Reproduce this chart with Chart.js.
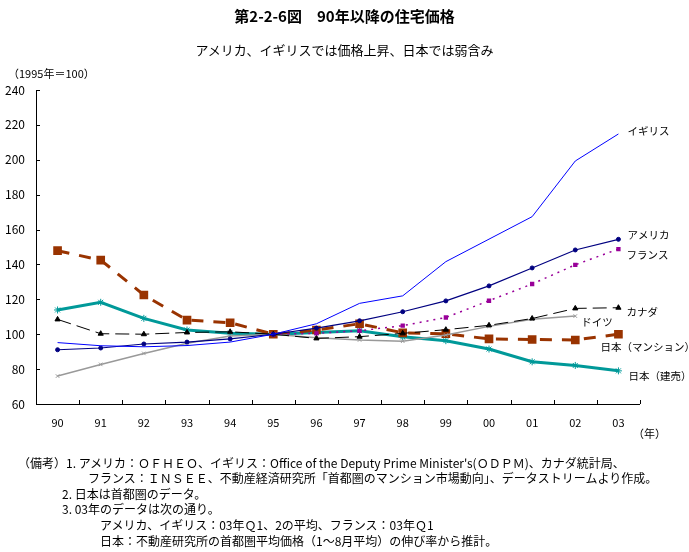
<!DOCTYPE html>
<html>
<head>
<meta charset="utf-8">
<script src="https://cdn.jsdelivr.net/npm/chart.js@4.4.1/dist/chart.umd.min.js"></script>
<style>
  html, body { margin:0; padding:0; background:#fff; }
  #wrap { position:relative; width:689px; height:552px; overflow:hidden; font-family:"Noto Sans CJK JP", sans-serif; color:#000; }
  canvas { position:absolute; left:0; top:0; }
  .t { position:absolute; white-space:nowrap; line-height:1; }
</style>
</head>
<body>
<div id="wrap">
  <canvas id="c" width="689" height="552"></canvas>
  <div class="t" style="left:0;width:689px;text-align:center;top:8px;font-size:15px;font-weight:bold;">第2-2-6図　90年以降の住宅価格</div>
  <div class="t" style="left:0;width:689px;text-align:center;top:43px;font-size:13px;">アメリカ、イギリスでは価格上昇、日本では弱含み</div>
  <div class="t" style="left:8px;top:68px;font-size:11px;">（1995年＝100）</div>
  <div class="t" style="left:633px;top:428px;font-size:11px;">（年）</div>
  <div class="t" style="left:18px;top:457px;font-size:12px;">（備考）1. アメリカ：ＯＦＨＥＯ、イギリス：Office of the Deputy Prime Minister's(ＯＤＰＭ)、カナダ統計局、</div>
  <div class="t" style="left:88px;top:472px;font-size:12px;">フランス：ＩＮＳＥＥ、不動産経済研究所「首都圏のマンション市場動向」、データストリームより作成。</div>
  <div class="t" style="left:62px;top:488px;font-size:12px;">2. 日本は首都圏のデータ。</div>
  <div class="t" style="left:62px;top:503px;font-size:12px;">3. 03年のデータは次の通り。</div>
  <div class="t" style="left:100px;top:519px;font-size:12px;">アメリカ、イギリス：03年Ｑ1、2の平均、フランス：03年Ｑ1</div>
  <div class="t" style="left:100px;top:535px;font-size:12px;">日本：不動産研究所の首都圏平均価格（1～8月平均）の伸び率から推計。</div>
</div>
<script>
const categories = ['90','91','92','93','94','95','96','97','98','99','00','01','02','03'];
const yTicks = [60, 80, 100, 120, 140, 160, 180, 200, 220, 240];
const uk        = [95.2, 93.4, 92.8, 93.5, 95.5, 100, 106, 117.7, 122, 141.6, 154.5, 167.4, 199.3, 214.8];
const usa       = [91.1, 92.1, 94.4, 95.5, 97.3, 100, 103.5, 107.7, 112.9, 119.1, 127.7, 138, 148.3, 154.4];
const france    = [null, null, null, null, null, 100, 100.5, 102, 104.9, 109.6, 119.2, 128.8, 139.8, 148.8];
const canada    = [108.5, 100.3, 100, 101, 101.4, 100, 97.6, 98.6, 100.5, 102.6, 105.1, 109, 114.8, 115.2];
const germany   = [76, 82.7, 89, 94.8, 99, 100, 98, 96.7, 96, 99.5, 104.5, 108.6, 110.4, null];
const jpMansion = [147.9, 142.5, 122.5, 108.1, 106.6, 100, 102.4, 106, 100.8, 100.3, 97.3, 97, 96.7, 100];
const jpBuilt   = [113.9, 118.3, 109.1, 102.4, 100.5, 100, 101, 102, 98.5, 96.3, 91.5, 84.2, 82.1, 79];
const seriesNames = ['イギリス','アメリカ','フランス','カナダ','ドイツ','日本（マンション）','日本（建売）'];

const labelOffsets = [[9,-3],[9,-4],[8,6],[8,4],[6,6],[-18,13],[10,5]];

const labelPlugin = {
  id: 'endLabels',
  afterDatasetsDraw(chart) {
    const ctx = chart.ctx;
    const xs = chart.scales.x, ys = chart.scales.y;
    ctx.save();
    ctx.font = '10.5px "Noto Sans CJK JP"';
    ctx.fillStyle = '#000';
    ctx.textBaseline = 'middle';
    ctx.textAlign = 'left';
    chart.data.datasets.forEach((ds, i) => {
      let last = ds.data.length - 1;
      while (ds.data[last] == null) last--;
      const px = xs.getPixelForValue(last);
      const py = ys.getPixelForValue(ds.data[last]);
      ctx.fillText(seriesNames[i], px + labelOffsets[i][0], py + labelOffsets[i][1]);
    });
    ctx.restore();
  },
  afterDraw(chart) {
    const ctx = chart.ctx;
    const xs = chart.scales.x, ys = chart.scales.y;
    const a = chart.chartArea;
    ctx.save();
    ctx.strokeStyle = '#000';
    ctx.lineWidth = 1;
    ctx.beginPath();
    ctx.moveTo(Math.round(a.left) + 0.5, a.top);
    ctx.lineTo(Math.round(a.left) + 0.5, Math.round(a.bottom) + 0.5);
    ctx.lineTo(a.right, Math.round(a.bottom) + 0.5);
    yTicks.forEach(v => {
      const y = Math.round(ys.getPixelForValue(v)) + 0.5;
      ctx.moveTo(a.left, y); ctx.lineTo(a.left + 4, y);
    });
    const step = xs.getPixelForValue(1) - xs.getPixelForValue(0);
    for (let i = 0; i <= categories.length; i++) {
      const x = Math.round(xs.getPixelForValue(i) - step / 2) + 0.5;
      ctx.moveTo(x, a.bottom); ctx.lineTo(x, a.bottom - 4);
    }
    ctx.stroke();
    ctx.restore();
  }
};

new Chart(document.getElementById('c'), {
  type: 'line',
  data: {
    labels: categories,
    datasets: [
      { data: uk, borderColor: '#0000ff', borderWidth: 1, pointRadius: 0, tension: 0 },
      { data: usa, borderColor: '#000080', backgroundColor: '#000080', borderWidth: 1.2, pointStyle: 'circle', pointRadius: 2, pointBorderWidth: 1 },
      { data: france, borderColor: '#990099', backgroundColor: '#990099', borderWidth: 1.5, borderDash: [2, 5], pointStyle: 'rect', pointRadius: 2 },
      { data: canada, borderColor: '#000000', backgroundColor: '#000000', borderWidth: 1, borderDash: [14, 6], pointStyle: 'triangle', pointRadius: 3 },
      { data: germany, borderColor: '#999999', backgroundColor: '#999999', borderWidth: 1.5, pointStyle: 'crossRot', pointRadius: 2.5, pointBorderWidth: 1 },
      { data: jpMansion, borderColor: '#993300', backgroundColor: '#993300', borderWidth: 3, borderDash: [12, 10], pointStyle: 'rect', pointRadius: 4 },
      { data: jpBuilt, borderColor: '#009999', backgroundColor: '#009999', borderWidth: 3, pointStyle: 'star', pointRadius: 3.5, pointBorderWidth: 1 }
    ]
  },
  options: {
    responsive: false,
    animation: false,
    events: [],
    spanGaps: false,
    layout: { padding: { left: 0, top: 90, right: 49, bottom: 118 } },
    plugins: { legend: { display: false }, tooltip: { enabled: false } },
    elements: { line: { tension: 0 } },
    scales: {
      x: {
        type: 'category',
        offset: true,
        grid: { display: false, drawTicks: false },
        border: { display: false },
        ticks: { color: '#000', font: { family: 'Noto Sans CJK JP', size: 11 }, padding: 12, maxRotation: 0, autoSkip: false },
        afterFit(s) { s.height = 30; }
      },
      y: {
        min: 60, max: 240,
        grid: { display: false, drawTicks: false },
        border: { display: false },
        ticks: { stepSize: 20, color: '#000', font: { family: 'Noto Sans CJK JP', size: 12 }, padding: 11 },
        afterFit(s) { s.width = 36; }
      }
    }
  },
  plugins: [labelPlugin]
});
</script>
</body>
</html>
